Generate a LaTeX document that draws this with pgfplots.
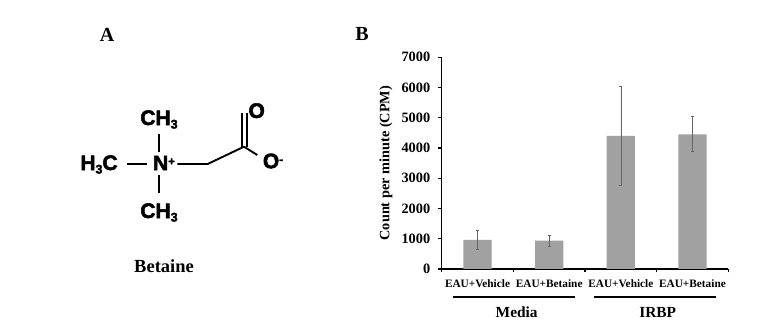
\documentclass[border=0pt]{standalone}
\usepackage{pgfplots}
\usepackage{fontspec}
\setmainfont{Liberation Serif}
\newfontfamily\chem[BoldFeatures={FakeBold=2.5}]{Liberation Sans}
\newcommand{\chsub}[1]{\raisebox{-3.5pt}{\fontsize{12.5}{12.5}\selectfont #1}}
\newcommand{\chsup}[1]{\raisebox{5pt}{\fontsize{11.5}{11.5}\selectfont #1}}
\pgfplotsset{compat=1.18}
\begin{document}
\begin{tikzpicture}[x=1pt,y=1pt]
\useasboundingbox (0,0) rectangle (758,326);
\fill[white] (0,0) rectangle (758,326);
\begin{axis}[
  at={(441.7pt,57pt)}, anchor=south west,
  scale only axis, width=286.6pt, height=211.7pt,
  xmin=-0.5, xmax=3.5, ymin=0, ymax=7000,
  axis lines=left, axis line style={-, line width=1.3pt, black},
  ybar, bar width=28.3pt,
  ytick={0,1000,...,7000},
  xtick={0,1,2,3},
  xticklabels={EAU+Vehicle,EAU+Betaine,EAU+Vehicle,EAU+Betaine},
  minor xtick={-0.5,0.5,1.5,2.5,3.5},
  major x tick style={draw=none},
  tick style={black, line width=1.1pt},
  y tick style={black, line width=1.1pt},
  minor tick length=3.5pt,
  major tick length=4pt,
  tick align=outside,
  xtick pos=bottom, ytick pos=left,
  /pgf/number format/assume math mode=true,
  /pgf/number format/set thousands separator={},
  yticklabel style={font=\fontsize{14.3}{14.3}\selectfont\bfseries, xshift=-4pt},
  xticklabel style={font=\fontsize{11.3}{11.5}\selectfont\bfseries, yshift=-3pt},
  ylabel={Count per minute (CPM)},
  ylabel style={font=\fontsize{14.3}{14.5}\selectfont\bfseries, at={(axis description cs:-0.16,0.5)}, anchor=south},
]
\addplot[fill=black!37, draw=none,
  error bars/.cd, y dir=both, y explicit,
  error bar style={draw=black!60, line width=0.6pt},
  error mark options={draw=black!60, rotate=90, mark size=1.6pt, line width=0.5pt}]
  table[x=x, y=y, y error plus=up, y error minus=down] {
  x y up down
  0 959 320 309
  1 937 188 198
  2 4400 1641 1633
  3 4454 584 562
};
\end{axis}
\begin{scope}[shift={(0,326)}, y=-1pt, x=1pt]
  \draw[line width=1.8pt] (453.3,296.7) -- (575,296.7);
  \draw[line width=1.8pt] (594,296.7) -- (716,296.7);
  \node[font=\fontsize{15.4}{15.4}\selectfont\bfseries] at (516.7,312) {Media};
  \node[font=\fontsize{15.4}{15.4}\selectfont\bfseries] at (657.7,312) {IRBP};
  \node[font=\fontsize{20}{20}\selectfont\bfseries] at (107,35) {A};
  \node[font=\fontsize{20}{20}\selectfont\bfseries] at (362,34) {B};
  \node[font=\fontsize{18.5}{18.5}\selectfont\bfseries] at (164,265.7) {Betaine};
  % structure
  \begin{scope}[line width=1.9pt]
    \draw (159,134) -- (159,152.5);
    \draw (159,175) -- (159,193.5);
    \draw (126.7,164) -- (147.3,164);
    \draw (177.3,164) -- (207.7,164) -- (244,146.7);
    \draw (241.7,113.3) -- (241.7,146.7);
    \draw (246.7,113.3) -- (246.7,146.7);
    \draw (244,146.7) -- (257.3,155);
  \end{scope}
  \begin{scope}[font=\chem\fontsize{21}{21}\selectfont\bfseries]
    \node[inner sep=0pt] at (159,119.5) {CH\chsub{3}};
    \node[inner sep=0pt] at (159,212.5) {CH\chsub{3}};
    \node[inner sep=0pt] at (99,164.5) {H\chsub{3}C};
    \node[inner sep=0pt] at (164,163) {N\chsup{+}};
    \node[inner sep=0pt] at (256.7,110.7) {O};
    \node[inner sep=0pt] at (273,161) {O\chsup{-}};
  \end{scope}
\end{scope}
\end{tikzpicture}
\end{document}
